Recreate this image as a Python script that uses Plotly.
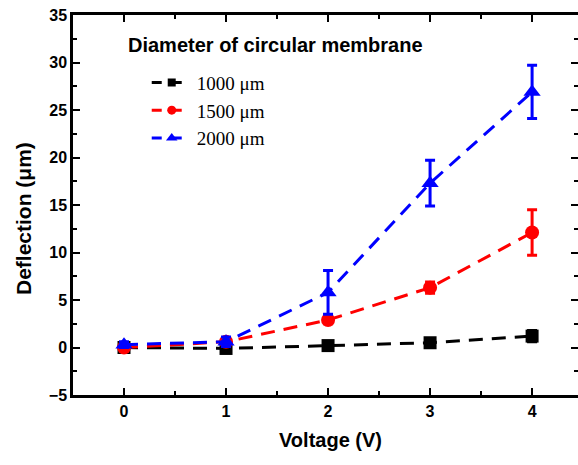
import plotly.graph_objects as go

voltage = [0, 1, 2, 3, 4]
series_names = ["1000 μm", "1500 μm", "2000 μm"]
defl_1000 = [0.0, -0.1, 0.2, 0.5, 1.2]
err_1000 = [0.1, 0.3, 0.2, 0.3, 0.6]
defl_1500 = [0.0, 0.6, 2.9, 6.3, 12.1]
err_1500 = [0.2, 0.3, 0.4, 0.6, 2.4]
defl_2000 = [0.3, 0.6, 5.8, 17.3, 26.9]
err_2000 = [0.3, 0.5, 2.3, 2.4, 2.8]
legend_title = "Diameter of circular membrane"
x_title = "Voltage (V)"
y_title = "Deflection (μm)"
x_ticks = [0, 1, 2, 3, 4]
y_ticks = [-5, 0, 5, 10, 15, 20, 25, 30, 35]

colors = ["#000000", "#FF0000", "#0000FF"]
symbols = ["square", "circle", "triangle-up"]
sizes = [13, 14, 15]
legend_sizes = [8, 9, 10]
values = [defl_1000, defl_1500, defl_2000]
errors = [err_1000, err_1500, err_2000]

L, R, T, B = 73, 0, 15, 70
W, H = 578, 465
pw, ph = W - L - R, H - T - B

fig = go.Figure()
for i in range(3):
    fig.add_trace(go.Scatter(
        x=voltage, y=values[i], name=series_names[i], showlegend=False,
        mode="lines+markers",
        line=dict(color=colors[i], width=3, dash="14px,9px"),
        marker=dict(symbol=symbols[i], size=sizes[i], color=colors[i]),
        error_y=dict(type="data", array=errors[i], visible=True,
                     color=colors[i], thickness=3, width=5),
    ))
# legend-only entries (smaller symbols as in the reference legend)
for i in range(3):
    fig.add_trace(go.Scatter(
        x=[None], y=[None], name=series_names[i], legendgroup=str(i),
        mode="lines+markers",
        line=dict(color=colors[i], width=3, dash="10px,10px"),
        marker=dict(symbol=symbols[i], size=legend_sizes[i], color=colors[i]),
    ))

# invisible trace to carry right-side ticks
fig.add_trace(go.Scatter(x=[None], y=[None], yaxis="y2", showlegend=False))

tick_font = dict(family="Liberation Sans, Arial", size=16, color="black", weight="bold")

fig.update_layout(
    width=W, height=H,
    margin=dict(l=L, r=R, t=T, b=B, autoexpand=False),
    plot_bgcolor="white", paper_bgcolor="white",
    showlegend=True,
    legend=dict(x=0.146, y=0.872, xanchor="left", yanchor="top",
                font=dict(family="Liberation Serif, Times New Roman", size=19, color="black"),
                bgcolor="rgba(0,0,0,0)", tracegroupgap=0, itemwidth=40),
    xaxis=dict(range=[-0.5, 4.45], tickvals=x_ticks, ticks="inside", ticklen=7,
               tickwidth=2, tickcolor="black", showline=True, linewidth=2.5,
               linecolor="black", mirror="ticks", showgrid=False, zeroline=False,
               automargin=False, tickfont=tick_font,
               minor=dict(dtick=0.5, ticks="inside", ticklen=4, tickwidth=2, tickcolor="black")),
    yaxis=dict(range=[-5, 35], tickvals=y_ticks, ticks="inside", ticklen=7,
               tickwidth=2, tickcolor="black", showline=True, linewidth=2.5,
               linecolor="black", showgrid=False, zeroline=False,
               automargin=False, tickfont=tick_font,
               minor=dict(dtick=2.5, ticks="inside", ticklen=4, tickwidth=2, tickcolor="black")),
    yaxis2=dict(range=[-5, 35], overlaying="y", side="right", tickvals=y_ticks,
                ticks="inside", ticklen=7, tickwidth=2, tickcolor="black",
                showticklabels=False, showline=False, showgrid=False, zeroline=False,
                automargin=False,
                minor=dict(dtick=2.5, ticks="inside", ticklen=4, tickwidth=2, tickcolor="black")),
    annotations=[
        dict(text="<b>" + legend_title + "</b>", xref="paper", yref="paper",
             x=(126 - L) / pw, y=(H - B - 45) / ph, xanchor="left", yanchor="middle",
             showarrow=False, font=dict(family="Liberation Sans, Arial", size=20, color="black")),
        dict(text="<b>" + x_title + "</b>", xref="paper", yref="paper",
             x=(330 - L) / pw, y=(H - B - 440) / ph, xanchor="center", yanchor="middle",
             showarrow=False, font=dict(family="Liberation Sans, Arial", size=20, color="black")),
        dict(text="<b>" + y_title + "</b>", xref="paper", yref="paper", textangle=-90,
             x=(23 - L) / pw, y=(H - B - 219) / ph, xanchor="center", yanchor="middle",
             showarrow=False, font=dict(family="Liberation Sans, Arial", size=21, color="black")),
    ],
)

fig.write_html("out.html", config={"displayModeBar": False},
               post_script="document.body.style.margin='0';document.body.style.padding='0';")
